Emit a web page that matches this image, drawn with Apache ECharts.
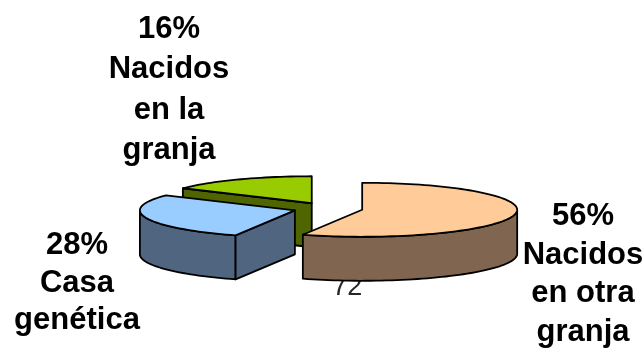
<!DOCTYPE html>
<html>
<head>
<meta charset="utf-8">
<script src="https://cdn.jsdelivr.net/npm/echarts@6/dist/echarts.min.js"></script>
<style>
html,body{margin:0;padding:0;background:#fff;}
#chart{width:644px;height:350px;}
</style>
</head>
<body>
<div id="chart"></div>
<script>
// ---- data ----
const categories = ['Nacidos\nen otra\ngranja', 'Casa\ngenética', 'Nacidos\nen la\ngranja'];
const values = [72, 36, 20];
const valueLabelIndex = 0; // the value label that Excel shows (partly hidden)

// ---- styles ----
const topColors  = ['#FFCC99', '#99CCFF', '#99CC00'];
const sideColors = ['#806650', '#4F6580', '#4F6600'];

const total = values.reduce((a, b) => a + b, 0);
const cum = [0];
values.forEach(v => cum.push(cum[cum.length - 1] + v));

// label layout
const labelLayout = [
  { x: 583, top: 197, lh: 38.7 },
  { x: 77,  top: 227, lh: 37.5 },
  { x: 169, top: 9,   lh: 40.5 }
];

const chart = echarts.init(document.getElementById('chart'), null, { renderer: 'canvas' });

function renderItem(params, api) {
  const i = params.dataIndex;
  const W = api.getWidth(), H = api.getHeight();
  const cx0 = W * 0.5095, cy0 = H * 0.596;
  const rx = 155, ry = 27, h = 44, explode = 0.224;
  const TAU = Math.PI * 2;
  const a1 = cum[i] / total * TAU;
  const a2 = cum[i + 1] / total * TAU;
  const mid = (a1 + a2) / 2;
  const cx = cx0 + explode * rx * Math.sin(mid);
  const cy = cy0 - explode * ry * Math.cos(mid);
  const P = (a, dz) => [cx + rx * Math.sin(a), cy - ry * Math.cos(a) + (dz || 0)];
  const arc = (from, to, dz) => {
    const n = Math.max(6, Math.ceil(Math.abs(to - from) / (Math.PI / 90)));
    const pts = [];
    for (let k = 0; k <= n; k++) pts.push(P(from + (to - from) * k / n, dz));
    return pts;
  };
  const depth = -Math.cos(mid);
  const base = Math.round(depth * 10) * 10 + 50;
  const stroke = { stroke: '#000', lineWidth: 1.8, lineJoin: 'round' };
  const children = [];

  // value label drawn behind the slice
  if (i === valueLabelIndex) {
    children.push({
      type: 'text', z2: base - 5,
      style: {
        text: String(api.value(0)),
        x: cx - 15, y: cy + ry + h + 7,
        align: 'center', verticalAlign: 'middle',
        font: 'normal 27px "Liberation Sans", Arial, sans-serif',
        fill: '#262626'
      }
    });
  }

  // outer wall (front half only)
  const lo = Math.max(a1, Math.PI / 2), hi = Math.min(a2, Math.PI * 1.5);
  if (hi > lo) {
    const pts = arc(lo, hi, 0).concat(arc(hi, lo, h));
    children.push({ type: 'polygon', z2: base + 1, shape: { points: pts },
      style: Object.assign({ fill: sideColors[i] }, stroke) });
  }
  const c = [cx, cy], cb = [cx, cy + h];
  // start cut face
  if (Math.cos(a1 - Math.PI / 2) < -1e-6) {
    children.push({ type: 'polygon', z2: base + 1,
      shape: { points: [c, P(a1), P(a1, h), cb] },
      style: Object.assign({ fill: sideColors[i] }, stroke) });
  }
  // end cut face
  if (Math.cos(a2 + Math.PI / 2) < -1e-6) {
    children.push({ type: 'polygon', z2: base + 1,
      shape: { points: [c, P(a2), P(a2, h), cb] },
      style: Object.assign({ fill: sideColors[i] }, stroke) });
  }
  // top face
  children.push({ type: 'polygon', z2: base + 2,
    shape: { points: [c].concat(arc(a1, a2, 0)) },
    style: Object.assign({ fill: topColors[i] }, stroke) });

  // category label
  const L = labelLayout[i];
  const pct = Math.round(api.value(0) / total * 100) + '%';
  children.push({
    type: 'text', z2: 500,
    style: {
      text: pct + '\n' + categories[i],
      x: L.x, y: L.top,
      align: 'center', verticalAlign: 'top',
      lineHeight: L.lh,
      font: 'bold 31px "Liberation Sans", Arial, sans-serif',
      fill: '#000'
    }
  });

  return { type: 'group', children };
}

chart.setOption({
  animation: false,
  backgroundColor: '#fff',
  series: [{
    type: 'custom',
    coordinateSystem: 'none',
    renderItem: renderItem,
    data: values.map((v, i) => ({ value: [v], name: categories[i] }))
  }]
});
</script>
</body>
</html>
